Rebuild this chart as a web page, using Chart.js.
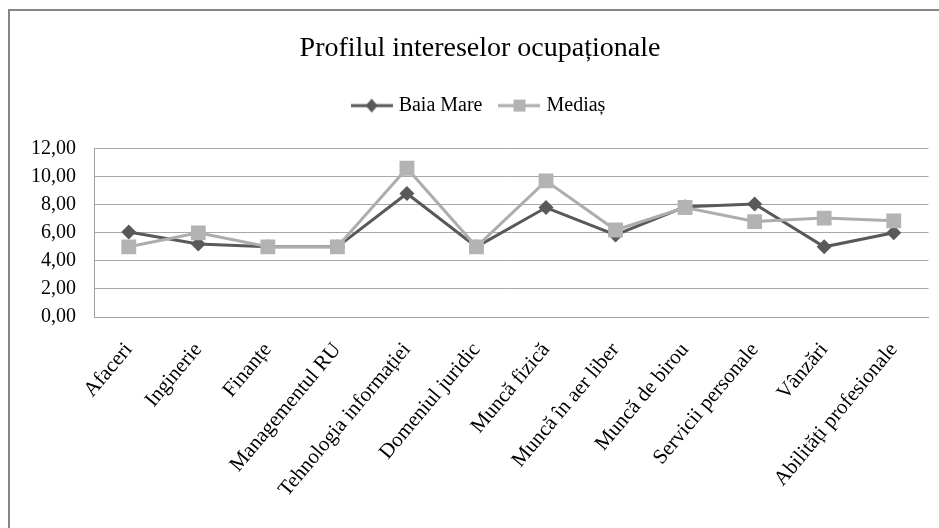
<!DOCTYPE html>
<html>
<head>
<meta charset="utf-8">
<script src="https://cdn.jsdelivr.net/npm/chart.js@4.4.1/dist/chart.umd.min.js"></script>
<style>
  html, body { margin: 0; padding: 0; background: #fff; overflow: hidden; }
  #wrap { position: relative; width: 939px; height: 528px; }
  #frame { position: absolute; left: 8px; top: 9px; right: -10px; bottom: -10px;
           border-top: 2px solid #868686; border-left: 2px solid #868686; pointer-events: none; }
</style>
</head>
<body>
<div id="wrap">
  <canvas id="chart" width="939" height="528"></canvas>
  <div id="frame"></div>
</div>
<script>
// date
const categories = [
  'Afaceri', 'Inginerie', 'Finanțe', 'Managementul RU', 'Tehnologia informației',
  'Domeniul juridic', 'Muncă fizică', 'Muncă în aer liber', 'Muncă de birou',
  'Servicii personale', 'Vânzări', 'Abilități profesionale'
];
const baiaMare = [6.05, 5.2, 5.0, 5.0, 8.8, 5.0, 7.8, 5.85, 7.85, 8.05, 5.0, 6.0];
const medias   = [5.0, 6.0, 5.0, 5.0, 10.6, 5.0, 9.7, 6.2, 7.8, 6.8, 7.05, 6.85];
const yTicks   = [0, 2, 4, 6, 8, 10, 12];

const FONT = "'Liberation Serif', 'Times New Roman', serif";
const DARK = '#595959';
const LIGHT = '#adadad';
const LIGHT_MARK = '#b3b3b3';

// mic simbol pentru legenda: linie + marker
function legendIcon(lineColor, markColor, shape) {
  const c = document.createElement('canvas');
  c.width = 42; c.height = 16;
  const g = c.getContext('2d');
  g.strokeStyle = lineColor;
  g.lineWidth = 3;
  g.beginPath(); g.moveTo(0, 8); g.lineTo(42, 8); g.stroke();
  g.fillStyle = markColor;
  g.beginPath();
  if (shape === 'diamond') {
    g.moveTo(21, 1); g.lineTo(27, 8); g.lineTo(21, 15); g.lineTo(15, 8);
  } else {
    g.rect(15, 2, 12, 12);
  }
  g.closePath(); g.fill();
  return c;
}

// spatiu suplimentar sub legenda
const legendSpacer = {
  id: 'legendSpacer',
  beforeInit(chart) {
    const origFit = chart.legend.fit;
    chart.legend.fit = function () {
      origFit.bind(chart.legend)();
      this.height += 23;
    };
  }
};

const ctx = document.getElementById('chart').getContext('2d');
new Chart(ctx, {
  type: 'line',
  data: {
    labels: categories,
    datasets: [
      {
        label: 'Mediaș',
        data: medias,
        borderColor: LIGHT,
        backgroundColor: LIGHT_MARK,
        borderWidth: 3,
        pointStyle: 'rect',
        pointRadius: 10.5,
        pointBorderWidth: 0,
        pointBackgroundColor: LIGHT_MARK,
        tension: 0,
        order: 0
      },
      {
        label: 'Baia Mare',
        data: baiaMare,
        borderColor: DARK,
        backgroundColor: DARK,
        borderWidth: 3,
        pointStyle: 'rectRot',
        pointRadius: 7.5,
        pointBorderWidth: 0,
        pointBackgroundColor: DARK,
        tension: 0,
        order: 1
      }
    ]
  },
  options: {
    responsive: false,
    animation: false,
    devicePixelRatio: 1,
    layout: { padding: { top: 10, left: 28, right: 7, bottom: 0 } },
    plugins: {
      tooltip: { enabled: false },
      title: {
        display: true,
        text: 'Profilul intereselor ocupaționale',
        color: '#000',
        font: { family: FONT, size: 28, weight: 'normal' },
        padding: { top: 22, bottom: 10 }
      },
      legend: {
        display: true,
        position: 'top',
        labels: {
          color: '#000',
          font: { family: FONT, size: 20 },
          usePointStyle: true,
          pointStyleWidth: 34,
          padding: 20,
          generateLabels() {
            return [
              { text: 'Baia Mare', pointStyle: legendIcon(DARK, DARK, 'diamond'), fillStyle: DARK, strokeStyle: DARK, lineWidth: 0, fontColor: '#000' },
              { text: 'Mediaș', pointStyle: legendIcon(LIGHT, LIGHT_MARK, 'square'), fillStyle: LIGHT, strokeStyle: LIGHT, lineWidth: 0, fontColor: '#000' }
            ];
          }
        }
      }
    },
    scales: {
      x: {
        offset: true,
        grid: { display: false, drawTicks: false },
        border: { display: true, color: '#a0a0a0', width: 1 },
        ticks: {
          color: '#000',
          font: { family: FONT, size: 21 },
          minRotation: 50,
          maxRotation: 50,
          autoSkip: false,
          padding: 21
        },
        afterFit(scale) { scale.height = 211; }
      },
      y: {
        min: 0,
        max: 12,
        grid: { color: '#a8a8a8', lineWidth: 1, drawTicks: false },
        border: { display: true, color: '#a0a0a0', width: 1 },
        afterBuildTicks(scale) { scale.ticks = yTicks.map(v => ({ value: v })); },
        ticks: {
          color: '#000',
          font: { family: FONT, size: 20 },
          padding: 18,
          callback: v => v.toFixed(2).replace('.', ',')
        },
        afterFit(scale) { scale.width = 66; }
      }
    }
  },
  plugins: [legendSpacer]
});
</script>
</body>
</html>
